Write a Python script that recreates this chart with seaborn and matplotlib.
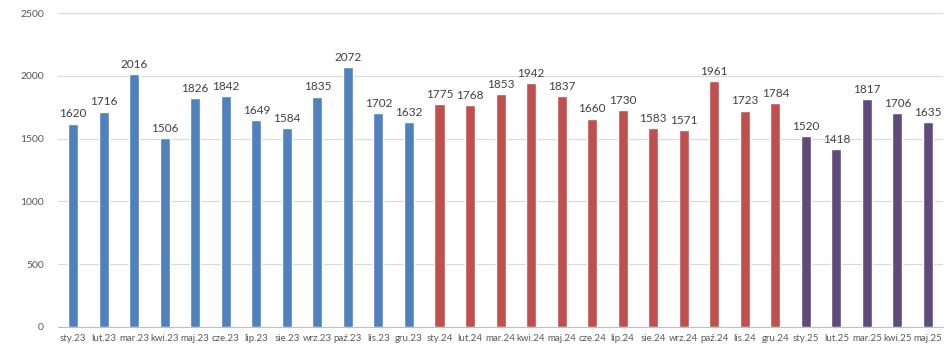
import matplotlib
matplotlib.use('Agg')
import matplotlib.pyplot as plt
import seaborn as sns
import pandas as pd
import numpy as np

months = ["sty.23", "lut.23", "mar.23", "kwi.23", "maj.23", "cze.23", "lip.23", "sie.23",
          "wrz.23", "paź.23", "lis.23", "gru.23",
          "sty.24", "lut.24", "mar.24", "kwi.24", "maj.24", "cze.24", "lip.24", "sie.24",
          "wrz.24", "paź.24", "lis.24", "gru.24",
          "sty.25", "lut.25", "mar.25", "kwi.25", "maj.25"]
values = [1620, 1716, 2016, 1506, 1826, 1842, 1649, 1584, 1835, 2072, 1702, 1632,
          1775, 1768, 1853, 1942, 1837, 1660, 1730, 1583, 1571, 1961, 1723, 1784,
          1520, 1418, 1817, 1706, 1635]
years = ["2023"] * 12 + ["2024"] * 12 + ["2025"] * 5
year_colors = {"2023": "#4F81BD", "2024": "#C0504D", "2025": "#604A7B"}

df = pd.DataFrame({"month": months, "value": values, "year": years})

sns.set_style("white")
plt.rcParams['font.family'] = ['Lato', 'DejaVu Sans']

fig = plt.figure(figsize=(9.48, 3.64), dpi=100)
ax = fig.add_axes([0.061, 0.102, 0.934, 0.862])

sns.barplot(data=df, x="month", y="value", hue="year", palette=year_colors,
            dodge=False, width=0.33, saturation=1, legend=False, ax=ax, zorder=3)

for container in ax.containers:
    ax.bar_label(container, fmt="%d", padding=3, fontsize=8.5, color="#404040")

ax.set_ylim(0, 2500)
ax.set_yticks(range(0, 2501, 500))
ax.set_xlim(-0.5, len(months) - 0.5)
ax.yaxis.grid(True, color="#D9D9D9", linewidth=0.8, zorder=0)
ax.set_xlabel("")
ax.set_ylabel("")

for side in ["left", "right", "top"]:
    ax.spines[side].set_visible(False)
ax.spines["bottom"].set_color("#BFBFBF")
ax.spines["bottom"].set_linewidth(0.8)

ax.tick_params(axis="y", length=0, labelsize=7.5, labelcolor="#595959", pad=10)
ax.tick_params(axis="x", which="major", length=0, labelsize=7, labelcolor="#595959", pad=5)
ax.set_xticks(np.arange(-0.5, len(months), 1), minor=True)
ax.tick_params(axis="x", which="minor", length=4, color="#BFBFBF", width=0.8)

fig.savefig("out.png", dpi=100)
plt.close(fig)
